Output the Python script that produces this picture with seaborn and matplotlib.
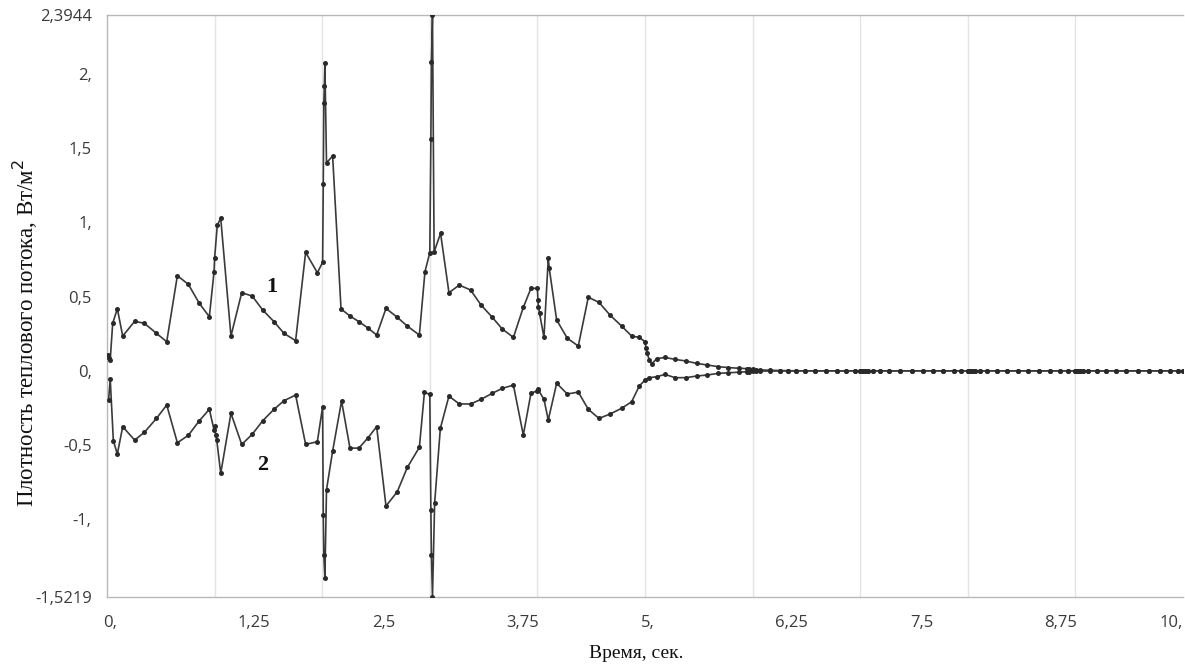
import matplotlib
matplotlib.use("Agg")
import matplotlib.pyplot as plt
import matplotlib.transforms as mtransforms
import seaborn as sns
import numpy as np
import pandas as pd

# ---- data ----
t1 = [0.010, 0.020, 0.030, 0.053, 0.096, 0.146, 0.257, 0.347, 0.460, 0.555,
      0.654, 0.756, 0.858, 0.951, 0.995, 1.000, 1.025, 1.057, 1.152, 1.252,
      1.350, 1.447, 1.552, 1.645, 1.753, 1.846, 1.955, 2.004, 2.010, 2.015,
      2.020, 2.025, 2.040, 2.097, 2.175, 2.258, 2.341, 2.422, 2.506, 2.593,
      2.698, 2.791, 2.903, 2.955, 3.000, 3.010, 3.015, 3.025, 3.040, 3.100,
      3.178, 3.274, 3.379, 3.476, 3.581, 3.674, 3.777, 3.869, 3.940, 4.000,
      4.005, 4.010, 4.020, 4.061, 4.101, 4.110, 4.179, 4.278, 4.380, 4.473,
      4.572, 4.675, 4.783, 4.876, 4.947, 5.000, 5.010, 5.020, 5.040, 5.062,
      5.109, 5.186, 5.279, 5.381, 5.480, 5.579, 5.681, 5.774, 5.877, 5.945,
      5.970, 6.000, 6.030, 6.070, 6.160, 6.250, 6.330]
q1 = [0.106, 0.084, 0.075, 0.320, 0.418, 0.234, 0.333, 0.320, 0.252, 0.196,
      0.640, 0.582, 0.454, 0.364, 0.667, 0.757, 0.981, 1.026, 0.234, 0.526,
      0.503, 0.409, 0.331, 0.252, 0.203, 0.797, 0.660, 0.730, 1.260, 1.800,
      1.920, 2.070, 1.400, 1.445, 0.416, 0.369, 0.331, 0.290, 0.241, 0.420,
      0.360, 0.301, 0.241, 0.667, 0.795, 1.558, 2.080, 2.3944, 0.800, 0.925,
      0.526, 0.577, 0.544, 0.443, 0.360, 0.281, 0.225, 0.427, 0.555, 0.555,
      0.476, 0.427, 0.387, 0.225, 0.757, 0.690, 0.342, 0.219, 0.167, 0.495,
      0.461, 0.375, 0.301, 0.234, 0.225, 0.196, 0.151, 0.118, 0.073, 0.046,
      0.082, 0.090, 0.077, 0.066, 0.050, 0.039, 0.028, 0.022, 0.017, 0.015,
      0.012, 0.010, 0.008, 0.006, 0.004, 0.002, 0.001]

t2 = [0.015, 0.030, 0.059, 0.096, 0.146, 0.257, 0.347, 0.460, 0.555, 0.654,
      0.756, 0.858, 0.951, 0.995, 1.000, 1.010, 1.020, 1.057, 1.152, 1.252,
      1.350, 1.447, 1.552, 1.645, 1.753, 1.846, 1.955, 2.004, 2.010, 2.015,
      2.025, 2.040, 2.097, 2.180, 2.258, 2.341, 2.422, 2.506, 2.593, 2.698,
      2.791, 2.903, 2.950, 3.000, 3.010, 3.015, 3.025, 3.045, 3.098, 3.178,
      3.274, 3.379, 3.476, 3.581, 3.674, 3.777, 3.869, 3.940, 4.000, 4.005,
      4.010, 4.061, 4.101, 4.179, 4.278, 4.380, 4.473, 4.572, 4.675, 4.783,
      4.876, 4.947, 5.000, 5.040, 5.109, 5.186, 5.279, 5.381, 5.480, 5.579,
      5.681, 5.774, 5.877, 5.945, 5.970, 6.000, 6.030, 6.070, 6.160, 6.250,
      6.330]
q2 = [-0.197, -0.055, -0.470, -0.560, -0.376, -0.466, -0.414, -0.320, -0.230, -0.484,
      -0.434, -0.336, -0.259, -0.398, -0.370, -0.430, -0.466, -0.690, -0.286, -0.495,
      -0.427, -0.336, -0.259, -0.201, -0.163, -0.495, -0.477, -0.241, -0.970, -1.240,
      -1.396, -0.800, -0.540, -0.203, -0.520, -0.520, -0.454, -0.376, -0.910, -0.813,
      -0.650, -0.515, -0.145, -0.158, -0.937, -1.240, -1.5219, -0.890, -0.387, -0.170,
      -0.223, -0.223, -0.192, -0.151, -0.118, -0.096, -0.432, -0.151, -0.134, -0.120,
      -0.130, -0.192, -0.331, -0.084, -0.156, -0.143, -0.259, -0.320, -0.291, -0.252,
      -0.208, -0.102, -0.062, -0.046, -0.040, -0.024, -0.046, -0.046, -0.035, -0.028,
      -0.017, -0.013, -0.008, -0.006, -0.005, -0.004, -0.003, -0.002, -0.001, -0.0005,
      0.0]

# tail where both curves sit on zero
t_tail = [6.40, 6.49, 6.58, 6.68, 6.78, 6.87, 6.95, 7.00, 7.01, 7.02, 7.04, 7.07,
          7.12, 7.18, 7.27, 7.37, 7.48, 7.58, 7.68, 7.77, 7.87, 7.94, 8.00, 8.01,
          8.02, 8.04, 8.07, 8.11, 8.18, 8.27, 8.36, 8.47, 8.56, 8.66, 8.76, 8.86,
          8.93, 9.00, 9.01, 9.02, 9.04, 9.07, 9.12, 9.20, 9.28, 9.38, 9.47, 9.58,
          9.68, 9.79, 9.88, 9.95, 10.00]
q_tail = [0.0] * len(t_tail)

x_ticks = [0, 1.25, 2.5, 3.75, 5, 6.25, 7.5, 8.75, 10]
x_ticklabels = ["0,", "1,25", "2,5", "3,75", "5,", "6,25", "7,5", "8,75", "10,"]
y_ticks = [-1.5219, -1, -0.5, 0, 0.5, 1, 1.5, 2, 2.3944]
y_ticklabels = ["-1,5219", "-1,", "-0,5", "0,", "0,5", "1,", "1,5", "2,", "2,3944"]
x_grid = [1, 2, 3, 4, 5, 6, 7, 8, 9]

df1 = pd.DataFrame({"t": t1 + t_tail, "q": q1 + q_tail})
df2 = pd.DataFrame({"t": t2 + t_tail, "q": q2 + q_tail})

sns.set_theme(style="white")
plt.rcParams["font.family"] = ["Open Sans", "DejaVu Sans"]

fig = plt.figure(figsize=(11.85, 6.66), dpi=100)
ax = fig.add_axes([107 / 1185, 1 - 597 / 666, (1183 - 107) / 1185, (597 - 15) / 666])

for xg in x_grid:
    ax.axvline(xg, color="#e4e4e4", lw=1.0, zorder=0)

line_col = "#3a3a3a"
for df in (df1, df2):
    sns.lineplot(data=df, x="t", y="q", ax=ax, sort=False, estimator=None,
                 color=line_col, lw=1.2, marker="o", markersize=3.6,
                 markeredgewidth=0, markerfacecolor="#2a2a2a", zorder=3)

ax.set_xlim(0, 10)
ax.set_ylim(-1.5219, 2.3944)
ax.set_xticks(x_ticks)
ax.set_xticklabels(x_ticklabels)
ax.set_yticks(y_ticks)
ax.set_yticklabels(y_ticklabels)
ax.tick_params(axis="both", direction="out", length=6, width=1, color="#b0b0b0",
               labelsize=12, labelcolor="#3a3a3a", pad=5)
ax.tick_params(axis="x", pad=7)

# x tick labels start at their tick, last one ends at the edge
shift = mtransforms.ScaledTranslation(-4 / 100, 0, fig.dpi_scale_trans)
xlabels = ax.get_xticklabels()
for lab in xlabels[:-1]:
    lab.set_horizontalalignment("left")
    lab.set_transform(lab.get_transform() + shift)
xlabels[-1].set_horizontalalignment("right")

for side in ("left", "bottom", "top"):
    ax.spines[side].set_color("#b8b8b8")
    ax.spines[side].set_linewidth(1.0)
ax.spines["right"].set_visible(False)

ax.set_xlabel("")
ax.set_ylabel("")
serif = ["Liberation Serif", "DejaVu Serif"]
fig.text(636 / 1185, 1 - 653 / 666, "Время, сек.", ha="center", va="center",
         fontsize=14, family=serif, color="#111111")
fig.text(25 / 1185, 1 - 333 / 666, "Плотность теплового потока, Вт/м$^2$",
         ha="center", va="center", rotation=90, fontsize=16.5, family=serif,
         color="#111111")

ax.text(1.533, 0.564, "1", ha="center", va="center", fontsize=16,
        fontweight="bold", family=serif, color="#111111")
ax.text(1.45, -0.634, "2", ha="center", va="center", fontsize=16,
        fontweight="bold", family=serif, color="#111111")

fig.savefig("out.png", dpi=100)
